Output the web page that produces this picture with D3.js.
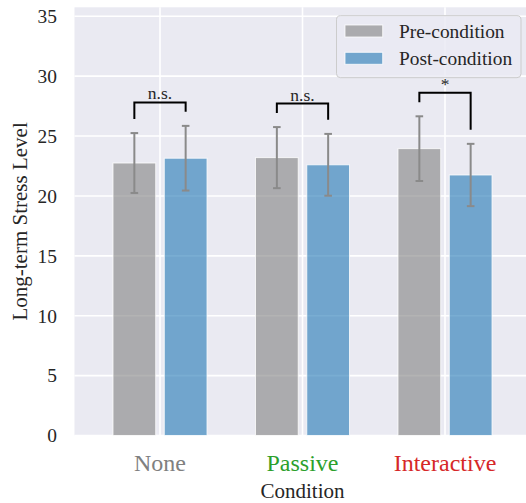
<!DOCTYPE html>
<html>
<head>
<meta charset="utf-8">
<script src="https://cdn.jsdelivr.net/npm/d3@7"></script>
<style>
  html, body { margin: 0; padding: 0; background: #fff; }
  svg { display: block; }
</style>
</head>
<body>
<script>
// ---- data ----
const categories = ["None", "Passive", "Interactive"];
const categoryColors = ["#808080", "#2ca02c", "#d62728"];
const seriesNames = ["Pre-condition", "Post-condition"];
const preMeans = [22.75, 23.2, 23.95];
const postMeans = [23.15, 22.6, 21.75];
const preErr = [2.5, 2.55, 2.7];
const postErr = [2.7, 2.58, 2.6];
const sigLabels = ["n.s.", "n.s.", "*"];
const yTicks = [0, 5, 10, 15, 20, 25, 30, 35];

const FONT = "'Liberation Serif', 'Times New Roman', Times, serif";
const W = 526, H = 503;
const margin = { left: 74.5, top: 7.3, bottom: 435.5 };

const svg = d3.select("body").append("svg").attr("width", W).attr("height", H)
  .attr("font-family", FONT).style("font-family", FONT);

const x = d3.scaleLinear().domain([-0.6, 2.6]).range([margin.left, margin.left + 3.2 * 142.5]);
const y = d3.scaleLinear().domain([0, 35.75]).range([margin.bottom, margin.top]);

const plotW = x(2.6) - x(-0.6);
const plotH = margin.bottom - margin.top;

// background
svg.append("rect").attr("x", x(-0.6)).attr("y", margin.top)
  .attr("width", plotW).attr("height", plotH).attr("fill", "#EAEAF2");

// grid
const g = svg.append("g");
g.selectAll("line.hg").data(yTicks).join("line")
  .attr("x1", x(-0.6)).attr("x2", x(2.6))
  .attr("y1", d => y(d)).attr("y2", d => y(d))
  .attr("stroke", "#fff").attr("stroke-width", 1.6);
g.selectAll("line.vg").data(categories).join("line")
  .attr("x1", (d, i) => x(i)).attr("x2", (d, i) => x(i))
  .attr("y1", margin.top).attr("y2", margin.bottom)
  .attr("stroke", "#fff").attr("stroke-width", 1.6);

// bars
const barW = 0.3, off = 0.18;
const series = [
  { name: seriesNames[0], means: preMeans, errs: preErr, color: "#808080", dx: -off },
  { name: seriesNames[1], means: postMeans, errs: postErr, color: "#1f77b4", dx: off }
];

series.forEach(s => {
  svg.append("g").selectAll("rect").data(s.means).join("rect")
    .attr("x", (d, i) => x(i + s.dx - barW / 2))
    .attr("width", x(barW) - x(0))
    .attr("y", d => y(d))
    .attr("height", d => y(0) - y(d))
    .attr("fill", s.color).attr("fill-opacity", 0.6)
    .attr("stroke", "#fff").attr("stroke-opacity", 0.8).attr("stroke-width", 1);
});

// error bars
series.forEach(s => {
  const eg = svg.append("g").attr("stroke", "#8a8a8a").attr("stroke-width", 2);
  s.means.forEach((m, i) => {
    const cx = x(i + s.dx);
    const lo = y(m - s.errs[i]), hi = y(m + s.errs[i]);
    eg.append("line").attr("x1", cx).attr("x2", cx).attr("y1", lo).attr("y2", hi);
    eg.append("line").attr("x1", cx - 3.8).attr("x2", cx + 3.8).attr("y1", lo).attr("y2", lo);
    eg.append("line").attr("x1", cx - 3.8).attr("x2", cx + 3.8).attr("y1", hi).attr("y2", hi);
  });
});

// significance brackets
categories.forEach((c, i) => {
  const topPre = preMeans[i] + preErr[i];
  const topPost = postMeans[i] + postErr[i];
  const legPre = topPre + 1.18;
  const legPost = topPost + 1.18;
  const by = Math.max(legPre, legPost) + 0.78;
  const x1 = x(i - off), x2 = x(i + off);
  svg.append("path")
    .attr("d", `M${x1},${y(legPre)}V${y(by)}H${x2}V${y(legPost)}`)
    .attr("fill", "none").attr("stroke", "#000").attr("stroke-width", 2);
  svg.append("text").attr("x", x(i)).attr("y", y(by) - 3)
    .attr("text-anchor", "middle").attr("font-size", 17.5).attr("fill", "#262626")
    .attr("font-family", FONT)
    .text(sigLabels[i]);
});

// y tick labels
svg.append("g").selectAll("text").data(yTicks).join("text")
  .attr("x", 57).attr("y", d => y(d)).attr("dy", "0.35em")
  .attr("text-anchor", "end").attr("font-size", 19.4).attr("fill", "#262626")
  .attr("font-family", FONT)
  .text(d => d);

// x tick labels
svg.append("g").selectAll("text").data(categories).join("text")
  .attr("x", (d, i) => x(i)).attr("y", 471)
  .attr("text-anchor", "middle").attr("font-size", 24)
  .attr("font-family", FONT)
  .attr("fill", (d, i) => categoryColors[i])
  .text(d => d);

// axis labels
svg.append("text").attr("x", x(1)).attr("y", 498)
  .attr("text-anchor", "middle").attr("font-size", 21).attr("fill", "#262626")
  .attr("font-family", FONT)
  .text("Condition");
svg.append("text")
  .attr("transform", `translate(27,${(margin.top + margin.bottom) / 2}) rotate(-90)`)
  .attr("text-anchor", "middle").attr("font-size", 21).attr("fill", "#262626")
  .attr("font-family", FONT)
  .text("Long-term Stress Level");

// legend
const lg = svg.append("g");
lg.append("rect").attr("x", 336.5).attr("y", 15.7).attr("width", 184.5).attr("height", 62)
  .attr("rx", 4).attr("fill", "#EAEAF2").attr("fill-opacity", 0.8)
  .attr("stroke", "#cccccc").attr("stroke-width", 1);
series.forEach((s, k) => {
  const cy = 31 + k * 27.3;
  lg.append("rect").attr("x", 345).attr("y", cy - 6).attr("width", 37.7).attr("height", 12)
    .attr("fill", s.color).attr("fill-opacity", 0.6)
    .attr("stroke", "#fff").attr("stroke-opacity", 0.8).attr("stroke-width", 1);
  lg.append("text").attr("x", 399).attr("y", cy).attr("dy", "0.35em")
    .attr("font-size", 19.4).attr("fill", "#262626").attr("font-family", FONT).text(s.name);
});
</script>
</body>
</html>
